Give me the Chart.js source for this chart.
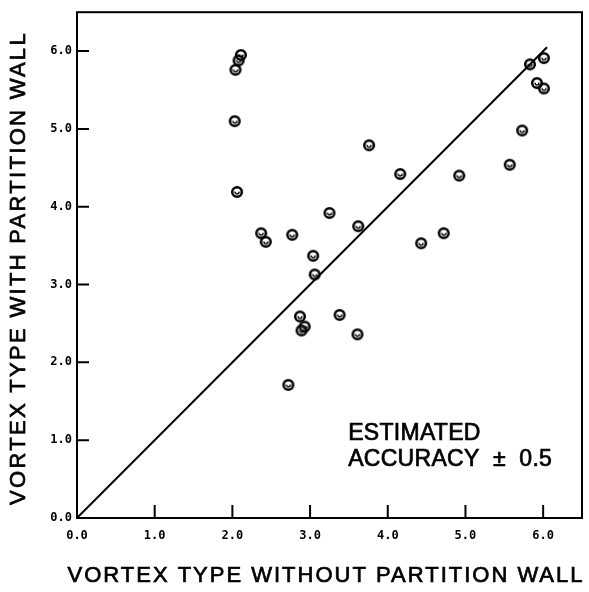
<!DOCTYPE html>
<html>
<head>
<meta charset="utf-8">
<script src="https://cdn.jsdelivr.net/npm/chart.js@4.4.0/dist/chart.umd.min.js"></script>
<style>
  html, body { margin: 0; padding: 0; background: #fff; }
  #wrap { width: 589px; height: 592px; }
</style>
</head>
<body>
<div id="wrap"><canvas id="myChart"></canvas></div>
<script>
// vortex type measured without the wall (x) and with the wall (y)
var withoutWall = [2.04, 2.08, 2.11, 2.03, 2.06, 3.25, 3.62, 2.37, 2.43, 2.77,
                   3.04, 3.06, 2.87, 2.93, 2.89, 3.38, 3.61, 2.72, 4.16, 4.92,
                   5.57, 5.73, 5.83, 6.01, 5.92, 6.01, 4.43, 4.72, 3.76];
var withWall    = [5.76, 5.88, 5.95, 5.10, 4.19, 3.92, 3.75, 3.66, 3.55, 3.64,
                   3.37, 3.13, 2.59, 2.46, 2.41, 2.61, 2.36, 1.71, 4.42, 4.40,
                   4.54, 4.98, 5.83, 5.91, 5.59, 5.52, 3.53, 3.66, 4.79];

// 1:1 reference line
var lineX = [0, 6.05];
var lineY = [0, 6.05];

var ticksX = [0, 1, 2, 3, 4, 5, 6];
var ticksY = [0, 1, 2, 3, 4, 5, 6];
var axisMax = 6.5;

var titleX = 'VORTEX TYPE WITHOUT PARTITION WALL';
var titleY = 'VORTEX TYPE WITH PARTITION WALL';
var noteLines = ['ESTIMATED', 'ACCURACY  \u00B1  0.5'];
var noteX = 3.49;
var noteY = [1.09, 0.75];

// open circle with a small hook inside, like the plotter symbol
function makeMarker() {
    var c = document.createElement('canvas');
    c.width = 14;
    c.height = 14;
    var g = c.getContext('2d');
    g.strokeStyle = '#000';
    g.lineWidth = 2.5;
    g.beginPath();
    g.arc(7, 7, 4.8, 0, Math.PI * 2);
    g.stroke();
    g.lineWidth = 1.5;
    g.beginPath();
    g.arc(7, 7, 1.9, -0.2, Math.PI + 0.2);
    g.stroke();
    return c;
}

var points = withoutWall.map(function (v, i) { return { x: v, y: withWall[i] }; });
var line = lineX.map(function (v, i) { return { x: v, y: lineY[i] }; });

// filled text with a thin outline to get a medium weight
function heavyText(ctx, t, x, y) {
    ctx.fillText(t, x, y);
    ctx.strokeText(t, x, y);
}

// frame, inward tick marks, axis titles and the accuracy note
const decorations = {
    id: 'decorations',
    beforeDatasetsDraw(chart) {
        const ctx = chart.ctx;
        const a = chart.chartArea;
        const sx = chart.scales.x;
        const sy = chart.scales.y;
        ctx.save();
        ctx.strokeStyle = '#000';
        ctx.lineWidth = 2;
        ctx.strokeRect(a.left, a.top, a.right - a.left, a.bottom - a.top);
        ctx.beginPath();
        ticksX.forEach(function (v) {
            if (v === 0) return;
            let px = sx.getPixelForValue(v);
            ctx.moveTo(px, a.bottom);
            ctx.lineTo(px, a.bottom - 13);
        });
        ticksY.forEach(function (v) {
            if (v === 0) return;
            let py = sy.getPixelForValue(v);
            ctx.moveTo(a.left, py);
            ctx.lineTo(a.left + 12, py);
        });
        ctx.stroke();
        ctx.restore();
    },
    afterDraw(chart) {
        const ctx = chart.ctx;
        const sx = chart.scales.x;
        const sy = chart.scales.y;
        ctx.save();
        ctx.fillStyle = '#000';
        ctx.strokeStyle = '#000';
        ctx.lineWidth = 0.7;
        ctx.textBaseline = 'middle';

        ctx.font = '22px "Liberation Sans", Arial, sans-serif';
        ctx.letterSpacing = '2px';
        ctx.textAlign = 'center';
        heavyText(ctx, titleX, 326, 576);

        ctx.save();
        ctx.translate(19, 268);
        ctx.letterSpacing = '2.3px';
        ctx.rotate(-Math.PI / 2);
        heavyText(ctx, titleY, 0, 0);
        ctx.restore();

        ctx.font = '23px "Liberation Sans", Arial, sans-serif';
        ctx.letterSpacing = '0.3px';
        ctx.textAlign = 'left';
        noteLines.forEach(function (t, i) {
            heavyText(ctx, t, sx.getPixelForValue(noteX), sy.getPixelForValue(noteY[i]));
        });
        ctx.restore();
    }
};

const tickFont = { family: '"DejaVu Sans Mono", monospace', size: 12, weight: 'bold' };

const config = {
    type: 'scatter',
    data: {
        datasets: [{
            label: 'points',
            data: points,
            pointStyle: makeMarker(),
            pointRadius: 6,
            pointHoverRadius: 6
        },
        {
            type: 'line',
            label: 'equal',
            data: line,
            borderColor: '#000',
            borderWidth: 2,
            pointRadius: 0,
            fill: false
        }]
    },
    options: {
        responsive: false,
        animation: false,
        events: [],
        layout: { padding: { top: 8, right: 4, left: 0, bottom: 0 } },
        plugins: {
            legend: { display: false },
            tooltip: { enabled: false }
        },
        scales: {
            x: {
                type: 'linear',
                min: 0,
                max: axisMax,
                afterBuildTicks: function (scale) {
                    scale.ticks = ticksX.map(function (v) { return { value: v }; });
                },
                afterFit: function (scale) { scale.height = 74; },
                grid: { display: false, drawTicks: false },
                border: { display: false },
                ticks: {
                    color: '#000',
                    font: tickFont,
                    padding: 11,
                    maxRotation: 0,
                    callback: function (v) { return v.toFixed(1); }
                }
            },
            y: {
                type: 'linear',
                min: 0,
                max: axisMax,
                afterBuildTicks: function (scale) {
                    scale.ticks = ticksY.map(function (v) { return { value: v }; });
                },
                afterFit: function (scale) { scale.width = 77; },
                grid: { display: false, drawTicks: false },
                border: { display: false },
                ticks: {
                    color: '#000',
                    font: tickFont,
                    padding: 5,
                    callback: function (v) { return v.toFixed(1); }
                }
            }
        }
    },
    plugins: [decorations]
};

var canvas = document.getElementById('myChart');
canvas.width = 589;
canvas.height = 592;
let myChart = new Chart(canvas, config);
</script>
</body>
</html>
